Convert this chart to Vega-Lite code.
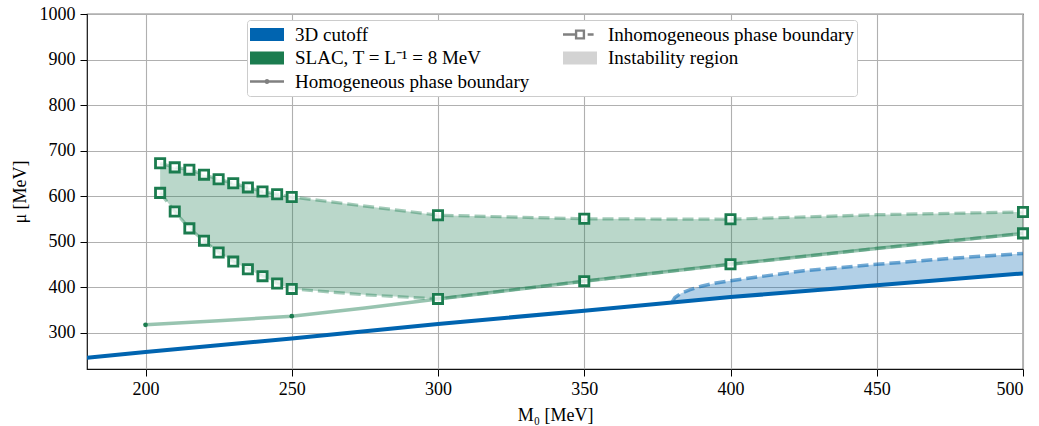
{
  "$schema": "https://vega.github.io/schema/vega-lite/v6.json",
  "width": 936,
  "height": 355,
  "autosize": "none",
  "padding": {"left": 87, "top": 14, "right": 16, "bottom": 57},
  "background": "white",
  "config": {
    "view": {"stroke": "#111111", "strokeWidth": 1.2},
    "font": "Liberation Serif",
    "style": {"guide-label": {"font": "Liberation Serif"}, "guide-title": {"font": "Liberation Serif"}},
    "axis": {
      "labelFont": "Liberation Serif",
      "labelFontSize": 18,
      "labelColor": "#000000",
      "titleFont": "Liberation Serif",
      "titleFontSize": 18,
      "titleFontWeight": "normal",
      "titleColor": "#000000",
      "domain": false,
      "grid": true,
      "gridColor": "#b0b0b0",
      "gridWidth": 1.1,
      "tickColor": "#000000",
      "tickSize": 7,
      "tickWidth": 1
    }
  },
  "datasets": {
    "slac_region": [
      {"M0": 205, "upper": 672, "lower": 607},
      {"M0": 210, "upper": 663, "lower": 566},
      {"M0": 215, "upper": 658, "lower": 529},
      {"M0": 220, "upper": 647, "lower": 502},
      {"M0": 225, "upper": 637, "lower": 476},
      {"M0": 230, "upper": 628, "lower": 456},
      {"M0": 235, "upper": 619, "lower": 439},
      {"M0": 240, "upper": 610, "lower": 424},
      {"M0": 245, "upper": 604, "lower": 408},
      {"M0": 250, "upper": 598, "lower": 396},
      {"M0": 275, "upper": 578, "lower": 383},
      {"M0": 300, "upper": 558, "lower": 374},
      {"M0": 350, "upper": 550, "lower": 413},
      {"M0": 400, "upper": 549, "lower": 450},
      {"M0": 450, "upper": 559, "lower": 485},
      {"M0": 500, "upper": 565, "lower": 518}
    ],
    "blue_region": [
      {"M0": 380, "upper": 367, "lower": 366.5},
      {"M0": 381, "upper": 377, "lower": 367},
      {"M0": 383, "upper": 386, "lower": 368},
      {"M0": 386, "upper": 394, "lower": 370},
      {"M0": 390, "upper": 402, "lower": 372},
      {"M0": 395, "upper": 409, "lower": 375},
      {"M0": 400, "upper": 414, "lower": 378},
      {"M0": 425, "upper": 436, "lower": 391},
      {"M0": 450, "upper": 450, "lower": 404},
      {"M0": 475, "upper": 463, "lower": 417},
      {"M0": 500, "upper": 474, "lower": 430}
    ],
    "cutoff": [
      {"M0": 180, "mu": 244.5},
      {"M0": 200, "mu": 257.5},
      {"M0": 250, "mu": 287},
      {"M0": 300, "mu": 319},
      {"M0": 350, "mu": 348},
      {"M0": 400, "mu": 378},
      {"M0": 450, "mu": 404},
      {"M0": 500, "mu": 430}
    ],
    "homog": [
      {"M0": 200, "mu": 317},
      {"M0": 225, "mu": 326},
      {"M0": 250, "mu": 336},
      {"M0": 275, "mu": 354},
      {"M0": 300, "mu": 374},
      {"M0": 350, "mu": 413},
      {"M0": 400, "mu": 450},
      {"M0": 450, "mu": 485},
      {"M0": 500, "mu": 518}
    ],
    "dots": [
      {"M0": 200, "mu": 317},
      {"M0": 250, "mu": 336}
    ],
    "inhom": [
      {"branch": "upper", "M0": 205, "mu": 672},
      {"branch": "upper", "M0": 210, "mu": 663},
      {"branch": "upper", "M0": 215, "mu": 658},
      {"branch": "upper", "M0": 220, "mu": 647},
      {"branch": "upper", "M0": 225, "mu": 637},
      {"branch": "upper", "M0": 230, "mu": 628},
      {"branch": "upper", "M0": 235, "mu": 619},
      {"branch": "upper", "M0": 240, "mu": 610},
      {"branch": "upper", "M0": 245, "mu": 604},
      {"branch": "upper", "M0": 250, "mu": 598},
      {"branch": "upper", "M0": 300, "mu": 558},
      {"branch": "upper", "M0": 350, "mu": 550},
      {"branch": "upper", "M0": 400, "mu": 549},
      {"branch": "upper", "M0": 450, "mu": 559},
      {"branch": "upper", "M0": 500, "mu": 565},
      {"branch": "lower", "M0": 205, "mu": 607},
      {"branch": "lower", "M0": 210, "mu": 566},
      {"branch": "lower", "M0": 215, "mu": 529},
      {"branch": "lower", "M0": 220, "mu": 502},
      {"branch": "lower", "M0": 225, "mu": 476},
      {"branch": "lower", "M0": 230, "mu": 456},
      {"branch": "lower", "M0": 235, "mu": 439},
      {"branch": "lower", "M0": 240, "mu": 424},
      {"branch": "lower", "M0": 245, "mu": 408},
      {"branch": "lower", "M0": 250, "mu": 396},
      {"branch": "lower", "M0": 275, "mu": 383},
      {"branch": "lower", "M0": 300, "mu": 374},
      {"branch": "lower", "M0": 350, "mu": 413},
      {"branch": "lower", "M0": 400, "mu": 450},
      {"branch": "lower", "M0": 450, "mu": 485},
      {"branch": "lower", "M0": 500, "mu": 518}
    ],
    "squares": [
      {"M0": 205, "mu": 672}, {"M0": 210, "mu": 663}, {"M0": 215, "mu": 658},
      {"M0": 220, "mu": 647}, {"M0": 225, "mu": 637}, {"M0": 230, "mu": 628},
      {"M0": 235, "mu": 619}, {"M0": 240, "mu": 610}, {"M0": 245, "mu": 604},
      {"M0": 250, "mu": 598},
      {"M0": 205, "mu": 607}, {"M0": 210, "mu": 566}, {"M0": 215, "mu": 529},
      {"M0": 220, "mu": 502}, {"M0": 225, "mu": 476}, {"M0": 230, "mu": 456},
      {"M0": 235, "mu": 439}, {"M0": 240, "mu": 424}, {"M0": 245, "mu": 408},
      {"M0": 250, "mu": 396},
      {"M0": 300, "mu": 558}, {"M0": 350, "mu": 550}, {"M0": 400, "mu": 549},
      {"M0": 500, "mu": 565},
      {"M0": 300, "mu": 374}, {"M0": 350, "mu": 413}, {"M0": 400, "mu": 450},
      {"M0": 500, "mu": 518}
    ],
    "legend": [
      {"label": "3D cutoff", "M0": null, "mu": null},
      {"label": "SLAC, T = L⁻¹ = 8 MeV", "M0": null, "mu": null},
      {"label": "Homogeneous phase boundary", "M0": null, "mu": null},
      {"label": "Inhomogeneous phase boundary", "M0": null, "mu": null},
      {"label": "Instability region", "M0": null, "mu": null}
    ]
  },
  "encoding": {
    "x": {
      "field": "M0",
      "type": "quantitative",
      "scale": {"domain": [180, 500], "nice": false, "zero": false},
      "axis": {"title": "M₀ [MeV]", "values": [200, 250, 300, 350, 400, 450, 500], "format": "d", "labelFont": "Liberation Serif", "titleFont": "Liberation Serif", "labelPadding": 4, "titlePadding": 8}
    },
    "y": {
      "field": "mu",
      "type": "quantitative",
      "scale": {"domain": [220, 1000], "nice": false, "zero": false},
      "axis": {"title": "μ [MeV]", "values": [300, 400, 500, 600, 700, 800, 900, 1000], "format": "d", "labelFont": "Liberation Serif", "titleFont": "Liberation Serif", "labelPadding": 5, "titlePadding": 10}
    }
  },
  "layer": [
    {
      "data": {"name": "slac_region"},
      "mark": {"type": "area", "color": "#1b7c4f", "fillOpacity": 0.3, "clip": true},
      "encoding": {
        "y": {"field": "upper", "type": "quantitative"},
        "y2": {"field": "lower"}
      }
    },
    {
      "data": {"name": "blue_region"},
      "mark": {"type": "area", "color": "#0064b0", "fillOpacity": 0.3, "clip": true},
      "encoding": {
        "y": {"field": "upper", "type": "quantitative"},
        "y2": {"field": "lower"}
      }
    },
    {
      "data": {"name": "blue_region"},
      "mark": {"type": "line", "color": "#0064b0", "opacity": 0.55, "strokeWidth": 3.5, "strokeDash": [11, 5], "clip": true},
      "encoding": {
        "y": {"field": "upper", "type": "quantitative"}
      }
    },
    {
      "data": {"name": "cutoff"},
      "mark": {"type": "line", "color": "#0064b0", "strokeWidth": 4, "clip": true},
      "encoding": {}
    },
    {
      "data": {"name": "homog"},
      "mark": {"type": "line", "color": "#1b7c4f", "opacity": 0.45, "strokeWidth": 3.5, "clip": true},
      "encoding": {}
    },
    {
      "data": {"name": "inhom"},
      "mark": {"type": "line", "color": "#1b7c4f", "opacity": 0.4, "strokeWidth": 3.2, "strokeDash": [11, 5], "clip": true},
      "encoding": {
        "detail": {"field": "branch"}
      }
    },
    {
      "data": {"name": "dots"},
      "mark": {"type": "point", "shape": "circle", "filled": true, "color": "#1b7c4f", "opacity": 1, "size": 22},
      "encoding": {}
    },
    {
      "data": {"name": "squares"},
      "mark": {"type": "point", "shape": "square", "filled": false, "fill": "#ffffff", "fillOpacity": 0.75, "stroke": "#1b7c4f", "strokeWidth": 2.8, "opacity": 1, "size": 85, "clip": false},
      "encoding": {}
    },
    {
      "data": {"name": "legend"},
      "mark": {"type": "point", "filled": true, "opacity": 1, "size": 1156},
      "encoding": {
        "color": {
          "field": "label",
          "type": "nominal",
          "scale": {
            "domain": ["3D cutoff", "SLAC, T = L⁻¹ = 8 MeV", "Homogeneous phase boundary", "Inhomogeneous phase boundary", "Instability region"],
            "range": ["#0064b0", "#1b7c4f", "#808080", "#808080", "#d3d3d3"]
          },
          "legend": {
            "title": null,
            "orient": "none",
            "legendX": 160,
            "legendY": 6,
            "columns": 2,
            "columnPadding": 33,
            "rowPadding": 0.5,
            "clipHeight": 23,
            "symbolSize": 1156,
            "symbolStrokeWidth": 0,
            "labelFont": "Liberation Serif",
            "labelFontSize": 19,
            "labelColor": "#000000",
            "labelLimit": 0,
            "labelOffset": 11,
            "padding": 3,
            "fillColor": "#ffffff",
            "strokeColor": "#cccccc",
            "cornerRadius": 3
          }
        },
        "shape": {
          "field": "label",
          "type": "nominal",
          "scale": {
            "domain": ["3D cutoff", "SLAC, T = L⁻¹ = 8 MeV", "Homogeneous phase boundary", "Inhomogeneous phase boundary", "Instability region"],
            "range": [
              "M-1,-0.38H1V0.38H-1Z",
              "M-1,-0.38H1V0.38H-1Z",
              "M-1,-0.075H1V0.075H-1Z M0.15,0A0.15,0.15 0 1,1 -0.15,0A0.15,0.15 0 1,1 0.15,0Z",
              "M-1,-0.075H-0.3V0.075H-1Z M-0.3,-0.3H0.3V0.3H-0.3Z M-0.16,-0.16V0.16H0.16V-0.16Z M0.45,-0.075H0.8V0.075H0.45Z",
              "M-1,-0.38H1V0.38H-1Z"
            ]
          },
          "legend": null
        }
      }
    }
  ]
}
